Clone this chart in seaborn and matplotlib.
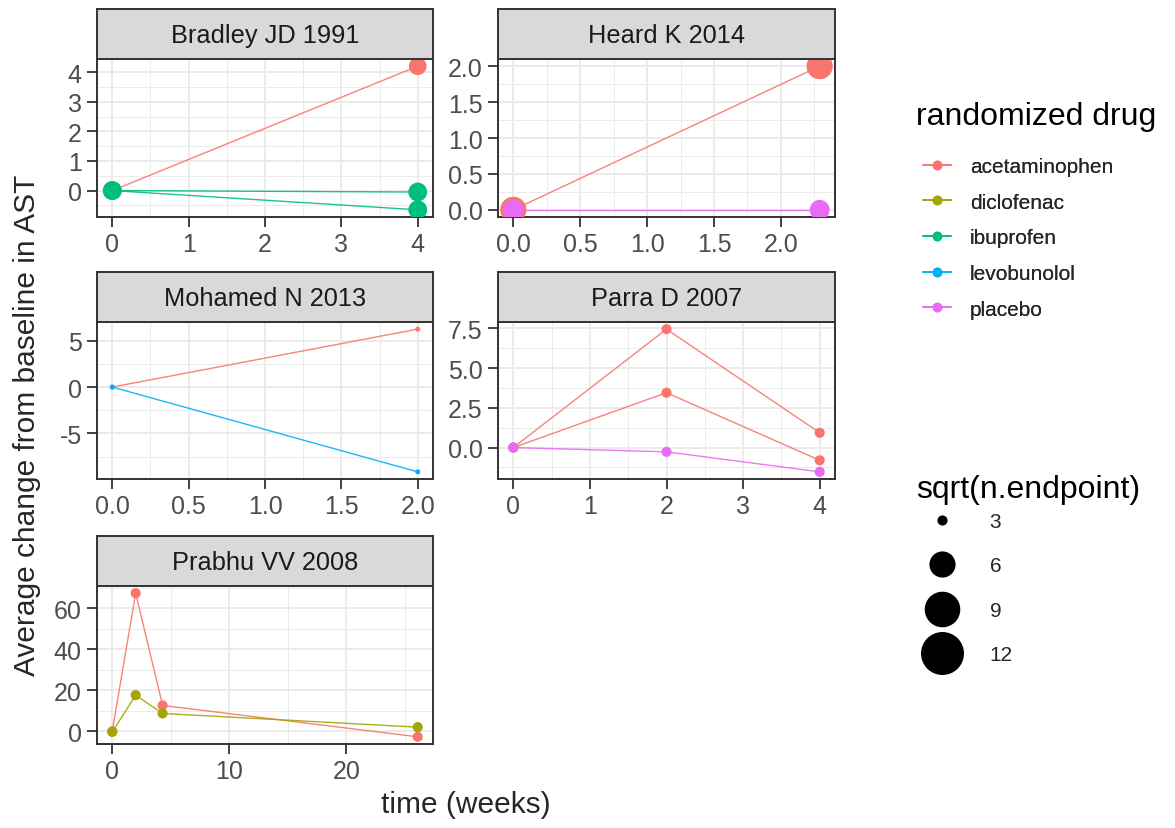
import numpy as np
import pandas as pd
import matplotlib
matplotlib.use("Agg")
import matplotlib.pyplot as plt
import seaborn as sns
from matplotlib.ticker import MultipleLocator, FormatStrFormatter
from matplotlib.lines import Line2D

# ---------------- data ----------------
studies = ["Bradley JD 1991", "Heard K 2014", "Mohamed N 2013", "Parra D 2007", "Prabhu VV 2008"]
drugs = ["acetaminophen", "diclofenac", "ibuprofen", "levobunolol", "placebo"]
drug_colors = ["#F8766D", "#A3A500", "#00BF7D", "#00B0F6", "#E76BF3"]

bradley_time = [0, 4]
bradley_acet = [0.0, 4.2]
bradley_ibu_a = [0.0, -0.05]
bradley_ibu_b = [0.0, -0.65]

heard_time = [0, 2.29]
heard_acet = [0.0, 2.0]
heard_plac = [0.0, 0.0]

mohamed_time = [0, 2]
mohamed_acet = [0.0, 6.25]
mohamed_levo = [0.0, -9.15]

parra_time = [0, 2, 4]
parra_acet_a = [0.0, 7.45, 0.93]
parra_acet_b = [0.0, 3.45, -0.8]
parra_plac = [0.0, -0.27, -1.53]

prabhu_time = [0, 2, 4.3, 26.1]
prabhu_acet = [0.0, 67.3, 12.6, -2.7]
prabhu_diclo = [-0.3, 17.6, 8.7, 2.0]

# sqrt(n.endpoint) per arm
sqrtn_bradley_acet = 4.1
sqrtn_bradley_ibu = 4.3
sqrtn_heard_acet = 6.0
sqrtn_heard_plac = 4.5
sqrtn_mohamed = 2.6
sqrtn_parra = 3.0
sqrtn_prabhu = 3.0

size_breaks = [3, 6, 9, 12]

series = [
    ("Bradley JD 1991", "acetaminophen", "b1", bradley_time, bradley_acet, sqrtn_bradley_acet),
    ("Bradley JD 1991", "ibuprofen", "b2", bradley_time, bradley_ibu_a, sqrtn_bradley_ibu),
    ("Bradley JD 1991", "ibuprofen", "b3", bradley_time, bradley_ibu_b, sqrtn_bradley_ibu),
    ("Heard K 2014", "acetaminophen", "h1", heard_time, heard_acet, sqrtn_heard_acet),
    ("Heard K 2014", "placebo", "h2", heard_time, heard_plac, sqrtn_heard_plac),
    ("Mohamed N 2013", "acetaminophen", "m1", mohamed_time, mohamed_acet, sqrtn_mohamed),
    ("Mohamed N 2013", "levobunolol", "m2", mohamed_time, mohamed_levo, sqrtn_mohamed),
    ("Parra D 2007", "acetaminophen", "p1", parra_time, parra_acet_a, sqrtn_parra),
    ("Parra D 2007", "acetaminophen", "p2", parra_time, parra_acet_b, sqrtn_parra),
    ("Parra D 2007", "placebo", "p3", parra_time, parra_plac, sqrtn_parra),
    ("Prabhu VV 2008", "acetaminophen", "v1", prabhu_time, prabhu_acet, sqrtn_prabhu),
    ("Prabhu VV 2008", "diclofenac", "v2", prabhu_time, prabhu_diclo, sqrtn_prabhu),
]

rows = []
for st, dr, arm, tt, vv, sn in series:
    for t, v in zip(tt, vv):
        rows.append(dict(study=st, drug=dr, arm=arm, time=t, change=v, sqrtn=sn))
df = pd.DataFrame(rows)

palette = dict(zip(drugs, drug_colors))

# ---------------- style ----------------
sns.set_theme(style="white")
plt.rcParams["font.family"] = ["Liberation Sans", "DejaVu Sans"]
plt.rcParams["axes.unicode_minus"] = False

W, H = 1175, 829
fig = plt.figure(figsize=(W / 100, H / 100), dpi=100)

def frac(x0, y0, x1, y1):
    return [x0 / W, 1 - y1 / H, (x1 - x0) / W, (y1 - y0) / H]

col_x = [(97, 433), (498, 835)]
row_y = [(10, 60, 218), (273, 323, 480), (537, 587, 745)]

panel_cfg = {
    "Bradley JD 1991": dict(pos=(0, 0), xs=1, ys=1, xf="%d", yf="%d"),
    "Heard K 2014": dict(pos=(1, 0), xs=0.5, ys=0.5, xf="%.1f", yf="%.1f"),
    "Mohamed N 2013": dict(pos=(0, 1), xs=0.5, ys=5, xf="%.1f", yf="%d"),
    "Parra D 2007": dict(pos=(1, 1), xs=1, ys=2.5, xf="%d", yf="%.1f"),
    "Prabhu VV 2008": dict(pos=(0, 2), xs=10, ys=20, xf="%d", yf="%d"),
}

SIZE_NORM = (2.6, 12)
SIZES = (13, 958)

border_col = "#333333"
for st in studies:
    cfg = panel_cfg[st]
    c, r = cfg["pos"]
    x0, x1 = col_x[c]
    s0, s1, p1 = row_y[r]
    ax = fig.add_axes(frac(x0, s1, x1, p1))
    sax = fig.add_axes(frac(x0, s0, x1, s1))
    sub = df[df.study == st]

    sns.lineplot(data=sub, x="time", y="change", hue="drug", units="arm",
                 estimator=None, sort=False, palette=palette, hue_order=drugs,
                 ax=ax, legend=False, linewidth=1.0, alpha=0.9, zorder=2)
    sns.scatterplot(data=sub, x="time", y="change", hue="drug", size="sqrtn",
                    sizes=SIZES, size_norm=SIZE_NORM, palette=palette,
                    hue_order=drugs, ax=ax, legend=False, linewidth=0, zorder=3)

    tmin, tmax = sub.time.min(), sub.time.max()
    vmin, vmax = sub.change.min(), sub.change.max()
    ax.set_xlim(tmin - 0.05 * (tmax - tmin), tmax + 0.05 * (tmax - tmin))
    ax.set_ylim(vmin - 0.05 * (vmax - vmin), vmax + 0.05 * (vmax - vmin))

    ax.xaxis.set_major_locator(MultipleLocator(cfg["xs"]))
    ax.xaxis.set_minor_locator(MultipleLocator(cfg["xs"] / 2))
    ax.yaxis.set_major_locator(MultipleLocator(cfg["ys"]))
    ax.yaxis.set_minor_locator(MultipleLocator(cfg["ys"] / 2))
    ax.xaxis.set_major_formatter(FormatStrFormatter(cfg["xf"]))
    ax.yaxis.set_major_formatter(FormatStrFormatter(cfg["yf"]))
    ax.grid(which="major", color="#EBEBEB", linewidth=1.4)
    ax.grid(which="minor", color="#EBEBEB", linewidth=0.7)
    ax.set_axisbelow(True)
    ax.set_facecolor("white")
    ax.set_xlabel("")
    ax.set_ylabel("")
    ax.tick_params(which="major", length=7, width=1.3, color=border_col,
                   labelsize=18, labelcolor="#4D4D4D", pad=4, bottom=True, left=True)
    ax.tick_params(which="minor", length=0)
    for sp in ax.spines.values():
        sp.set_color(border_col)
        sp.set_linewidth(1.4)

    sax.set_facecolor("#D9D9D9")
    sax.set_xticks([])
    sax.set_yticks([])
    for sp in sax.spines.values():
        sp.set_color(border_col)
        sp.set_linewidth(1.4)
    sax.text(0.5, 0.48, st, transform=sax.transAxes, ha="center", va="center",
             fontsize=18.3, color="#1A1A1A")

# axis titles
fig.text(466 / W, 1 - 805 / H, "time (weeks)", ha="center", va="center", fontsize=21.5)
fig.text(27 / W, 1 - 425 / H, "Average change from baseline in AST", ha="center",
         va="center", rotation=90, fontsize=21.5)

# legends
fig.text(916 / W, 1 - 117 / H, "randomized drug", ha="left", va="center",
         fontsize=23, color="black")
color_handles = [Line2D([], [], color=palette[d], marker="o", markersize=7,
                        markeredgewidth=0, linewidth=1.2) for d in drugs]
leg1 = fig.legend(color_handles, drugs,
                  loc="upper left", bbox_to_anchor=(923 / W, 1 - 158 / H),
                  frameon=False, fontsize=15,
                  handlelength=1.35, handletextpad=0.9,
                  labelspacing=0.8, borderpad=0, borderaxespad=0)

def area_for(v):
    return SIZES[0] + (v - SIZE_NORM[0]) / (SIZE_NORM[1] - SIZE_NORM[0]) * (SIZES[1] - SIZES[0])

fig.text(916 / W, 1 - 490 / H, "sqrt(n.endpoint)", ha="left", va="center",
         fontsize=23, color="black")
size_handles = [Line2D([], [], color="black", marker="o", linestyle="none",
                       markersize=np.sqrt(area_for(v)), markeredgewidth=0)
                for v in size_breaks]
leg2 = fig.legend(size_handles, [str(v) for v in size_breaks],
                  loc="upper left", bbox_to_anchor=(921 / W, 1 - 513 / H),
                  frameon=False, fontsize=15,
                  handlelength=2.0, handletextpad=1.3,
                  labelspacing=1.22, borderpad=0, borderaxespad=0)
fig.add_artist(leg1)

fig.savefig("out.png", dpi=100)
